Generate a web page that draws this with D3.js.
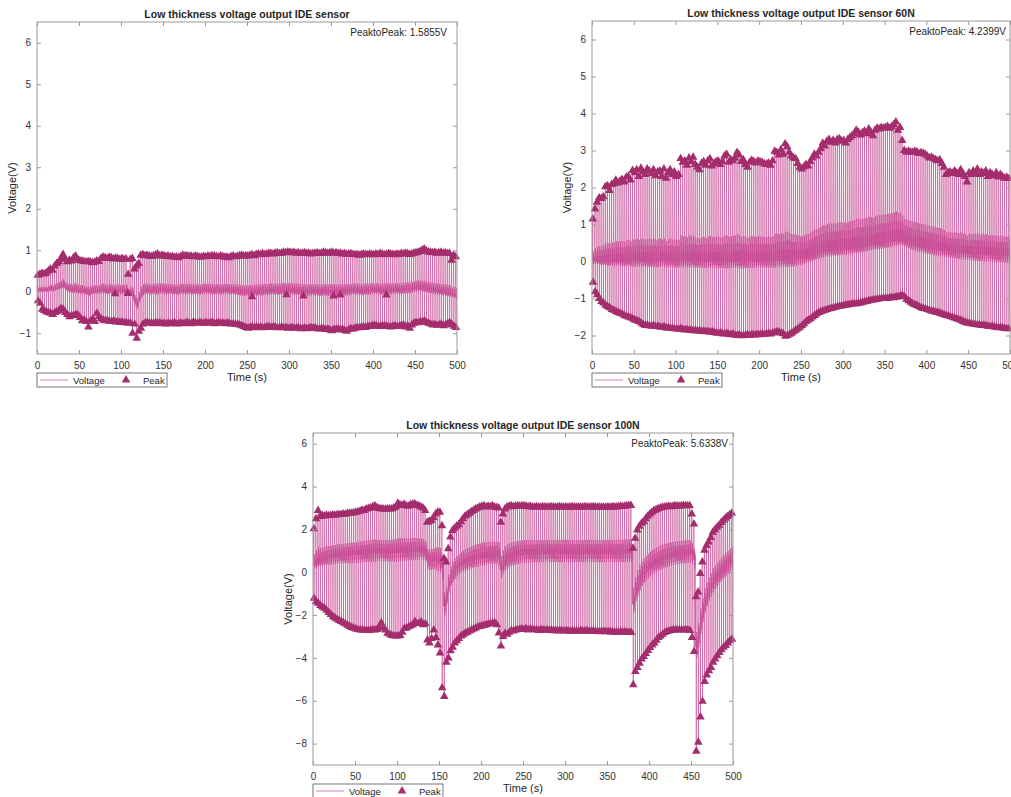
<!DOCTYPE html>
<html>
<head>
<meta charset="utf-8">
<script src="https://cdn.jsdelivr.net/npm/d3@7/dist/d3.min.js"></script>
<style>
  body { margin: 0; background: #fff; }
  svg text { font-family: "Liberation Sans", Arial, Helvetica, sans-serif; fill: #262626; }
</style>
</head>
<body>
<svg id="chart" width="1011" height="797"></svg>
<script>
// one press cycle every 2.5 s, first peak at t = 1 s
const cycleStart = 1;
const cyclePeriod = 2.5;

const xTicks = [0, 50, 100, 150, 200, 250, 300, 350, 400, 450, 500];
const titles = [
  "Low thickness voltage output IDE sensor",
  "Low thickness voltage output IDE sensor 60N",
  "Low thickness voltage output IDE sensor 100N"
];
const peakToPeak = ["PeaktoPeak: 1.5855V", "PeaktoPeak: 4.2399V", "PeaktoPeak: 5.6338V"];

// ---------- panel 1 (no load) ----------
const yTicks1 = [-1, 0, 1, 2, 3, 4, 5, 6];
const yDomain1 = [-1.5, 6.5];
const upper1 = [
  0.40, 0.42, 0.44, 0.43, 0.45, 0.50, 0.55, 0.52, 0.62, 0.68, 0.72, 0.80, 0.90, 0.78, 0.72, 0.76, 0.74, 0.82, 0.86, 0.78,
  0.75, 0.74, 0.73, 0.72, 0.73, 0.72, 0.70, 0.71, 0.74, 0.73, 0.80, 0.84, 0.82, 0.80, 0.83, 0.82, 0.79, 0.81, 0.80, 0.78,
  0.80, 0.78, 0.79, 0.42, 0.78, 0.80, 0.55, 0.62, 0.68, 0.88, 0.90, 0.87, 0.88, 0.86, 0.85, 0.87, 0.88, 0.91, 0.86, 0.88,
  0.87, 0.85, 0.86, 0.84, 0.85, 0.83, 0.84, 0.82, 0.85, 0.88, 0.86, 0.87, 0.85, 0.86, 0.84, 0.86, 0.85, 0.83, 0.84, 0.85,
  0.84, 0.86, 0.85, 0.87, 0.86, 0.85, 0.84, 0.86, 0.85, 0.83, 0.84, 0.82, 0.85, 0.86, 0.84, 0.85, 0.87, 0.88, 0.86, 0.87,
  0.86, 0.88, 0.89, 0.87, 0.90, 0.91, 0.89, 0.92, 0.90, 0.91, 0.93, 0.92, 0.91, 0.93, 0.94, 0.92, 0.93, 0.95, 0.94, 0.96,
  0.95, 0.94, 0.95, 0.93, 0.94, 0.92, 0.93, 0.94, 0.92, 0.93, 0.91, 0.92, 0.93, 0.94, 0.92, 0.93, 0.95, 0.94, 0.93, 0.94,
  0.95, 0.93, 0.94, 0.92, 0.93, 0.91, 0.92, 0.90, 0.91, 0.92, 0.90, 0.89, 0.90, 0.88, 0.89, 0.91, 0.90, 0.89, 0.91, 0.90,
  0.89, 0.91, 0.90, 0.92, 0.91, 0.89, 0.90, 0.92, 0.91, 0.90, 0.89, 0.91, 0.90, 0.92, 0.91, 0.93, 0.92, 0.90, 0.91, 0.93,
  0.94, 0.95, 0.97, 1.00, 1.03, 0.98, 0.96, 0.95, 0.94, 0.95, 0.93, 0.94, 0.95, 0.93, 0.94, 0.92, 0.93, 0.76, 0.88, 0.84
];
const lower1 = [
  -0.22, -0.28, -0.42, -0.45, -0.48, -0.50, -0.52, -0.55, -0.50, -0.48, -0.45, -0.40, -0.42, -0.50, -0.55, -0.60, -0.58, -0.57, -0.55, -0.56,
  -0.62, -0.70, -0.68, -0.72, -0.85, -0.70, -0.66, -0.72, -0.52, -0.60, -0.65, -0.68, -0.70, -0.69, -0.71, -0.72, -0.70, -0.73, -0.72, -0.74,
  -0.73, -0.75, -0.74, -0.76, -0.75, -1.00, -0.78, -1.12, -0.95, -0.88, -0.78, -0.75, -0.74, -0.76, -0.75, -0.77, -0.74, -0.76, -0.75, -0.77,
  -0.76, -0.78, -0.75, -0.77, -0.76, -0.74, -0.78, -0.76, -0.75, -0.77, -0.76, -0.74, -0.75, -0.77, -0.73, -0.75, -0.76, -0.74, -0.75, -0.76,
  -0.74, -0.76, -0.75, -0.73, -0.77, -0.75, -0.74, -0.76, -0.75, -0.77, -0.75, -0.76, -0.78, -0.77, -0.79, -0.78, -0.80, -0.82, -0.84, -0.86,
  -0.88, -0.86, -0.85, -0.87, -0.84, -0.86, -0.85, -0.87, -0.86, -0.84, -0.85, -0.86, -0.84, -0.85, -0.87, -0.86, -0.85, -0.87, -0.86, -0.88,
  -0.87, -0.86, -0.88, -0.87, -0.86, -0.89, -0.88, -0.87, -0.89, -0.88, -0.86, -0.88, -0.87, -0.89, -0.90, -0.88, -0.89, -0.91, -0.90, -0.92,
  -0.94, -0.90, -0.91, -0.89, -0.92, -0.90, -0.93, -0.95, -0.91, -0.89, -0.90, -0.88, -0.86, -0.87, -0.85, -0.84, -0.86, -0.83, -0.84, -0.82,
  -0.81, -0.82, -0.84, -0.83, -0.82, -0.81, -0.83, -0.84, -0.85, -0.83, -0.82, -0.84, -0.83, -0.81, -0.80, -0.85, -0.82, -0.88, -0.80, -0.76,
  -0.74, -0.75, -0.72, -0.73, -0.70, -0.74, -0.76, -0.78, -0.80, -0.79, -0.81, -0.80, -0.78, -0.82, -0.80, -0.77, -0.74, -0.79, -0.83, -0.86
];
const base1 = [
  0.02, 0.03, 0.02, 0.04, 0.03, 0.05, 0.06, 0.05, 0.07, 0.08, 0.10, 0.12, 0.14, 0.08, 0.05, 0.04, 0.02, 0.03, 0.01, 0.00,
  -0.01, 0.00, -0.02, -0.03, -0.05, -0.02, 0.00, 0.01, -0.01, 0.00, 0.02, 0.01, 0.00, -0.01, 0.01, 0.00, -0.02, -0.01, 0.00, -0.01,
  0.00, -0.01, 0.01, -0.02, -0.05, -0.10, -0.25, -0.35, -0.20, -0.08, -0.02, 0.00, 0.01, -0.01, 0.00, 0.01, -0.01, 0.00, 0.02, 0.01,
  0.00, -0.01, 0.00, 0.01, -0.01, 0.00, -0.02, 0.00, 0.01, 0.00, -0.01, 0.00, 0.01, -0.01, 0.00, 0.01, 0.00, -0.01, 0.00, 0.01,
  0.00, 0.01, 0.00, -0.01, 0.00, 0.01, 0.00, -0.01, 0.00, 0.01, 0.00, -0.01, 0.00, 0.00, -0.01, -0.02, -0.03, -0.04, -0.05, -0.04,
  -0.05, -0.04, -0.05, -0.03, -0.04, -0.02, -0.03, -0.02, -0.01, -0.02, -0.01, 0.00, -0.01, 0.00, -0.01, 0.00, 0.01, 0.00, -0.01, 0.00,
  -0.01, 0.00, -0.02, -0.01, -0.02, -0.03, -0.02, -0.03, -0.04, -0.03, -0.02, -0.03, -0.02, -0.03, -0.04, -0.03, -0.02, -0.03, -0.04, -0.03,
  -0.04, -0.03, -0.04, -0.03, -0.02, -0.03, -0.02, -0.01, -0.02, -0.01, 0.00, -0.01, 0.00, -0.01, -0.02, -0.01, 0.00, -0.01, 0.00, 0.01,
  0.00, 0.01, 0.00, -0.01, 0.00, 0.01, 0.02, 0.01, 0.00, 0.01, 0.02, 0.01, 0.00, 0.01, 0.02, 0.03, 0.04, 0.03, 0.05, 0.06,
  0.07, 0.08, 0.07, 0.06, 0.05, 0.04, 0.03, 0.02, 0.01, 0.00, -0.01, -0.02, -0.03, -0.02, -0.04, -0.05, -0.06, -0.08, -0.10, -0.12
];
// small peaks found near zero
const extraTimes1 = [93, 108, 256, 297, 317, 353, 361, 416];
const extraValues1 = [-0.05, -0.04, -0.12, -0.07, -0.10, -0.10, -0.08, -0.08];

// ---------- panel 2 (60N) ----------
const yTicks2 = [-2, -1, 0, 1, 2, 3, 4, 5, 6];
const yDomain2 = [-2.5, 6.5];
const upper2 = [
  1.15, 1.42, 1.60, 1.72, 1.70, 1.75, 2.02, 2.05, 1.92, 2.08, 2.10, 2.20, 2.12, 2.18, 2.22, 2.15, 2.28, 2.30, 2.20, 2.46,
  2.40, 2.48, 2.30, 2.52, 2.42, 2.35, 2.50, 2.45, 2.38, 2.48, 2.32, 2.42, 2.45, 2.30, 2.50, 2.25, 2.40, 2.48, 2.35, 2.42,
  2.30, 2.35, 2.78, 2.68, 2.72, 2.60, 2.80, 2.70, 2.82, 2.62, 2.55, 2.48, 2.65, 2.70, 2.60, 2.72, 2.78, 2.58, 2.65, 2.70,
  2.72, 2.62, 2.70, 2.85, 2.90, 2.68, 2.75, 2.72, 2.80, 2.95, 2.88, 2.70, 2.75, 2.62, 2.55, 2.68, 2.74, 2.70, 2.66, 2.72,
  2.70, 2.68, 2.64, 2.62, 2.66, 2.60, 2.72, 2.98, 2.95, 2.88, 3.02, 2.90, 3.18, 3.10, 2.95, 2.85, 2.80, 2.78, 2.65, 2.55,
  2.50, 2.56, 2.62, 2.58, 2.70, 2.80, 2.90, 2.85, 2.95, 3.05, 3.20, 3.12, 3.25, 3.30, 3.22, 3.28, 3.20, 3.30, 3.32, 3.25,
  3.27, 3.20, 3.30, 3.35, 3.40, 3.45, 3.55, 3.50, 3.42, 3.48, 3.52, 3.45, 3.58, 3.50, 3.40, 3.55, 3.60, 3.58, 3.62, 3.60,
  3.62, 3.65, 3.60, 3.64, 3.70, 3.77, 3.55, 3.62, 3.27, 3.00, 2.95, 2.98, 2.96, 2.95, 2.98, 2.96, 2.92, 2.94, 2.93, 2.90,
  2.85, 2.80, 2.82, 2.78, 2.75, 2.72, 2.75, 2.65, 2.55, 2.35, 2.40, 2.42, 2.38, 2.45, 2.40, 2.35, 2.48, 2.38, 2.30, 2.15,
  2.40, 2.35, 2.45, 2.38, 2.50, 2.35, 2.42, 2.38, 2.45, 2.30, 2.40, 2.36, 2.32, 2.40, 2.28, 2.35, 2.30, 2.25, 2.28, 2.24
];
const lower2 = [
  -0.56, -0.82, -0.90, -1.00, -1.08, -1.12, -1.18, -1.22, -1.25, -1.30, -1.32, -1.35, -1.38, -1.40, -1.42, -1.46, -1.48, -1.50, -1.52, -1.55,
  -1.58, -1.60, -1.62, -1.66, -1.70, -1.73, -1.72, -1.74, -1.75, -1.73, -1.76, -1.75, -1.77, -1.78, -1.76, -1.80, -1.79, -1.81, -1.80, -1.82,
  -1.82, -1.83, -1.81, -1.84, -1.85, -1.84, -1.86, -1.85, -1.87, -1.86, -1.88, -1.87, -1.89, -1.88, -1.90, -1.89, -1.91, -1.90, -1.92, -1.93,
  -1.94, -1.92, -1.95, -1.96, -1.94, -1.97, -1.98, -1.96, -1.99, -2.00, -1.98, -2.01, -2.00, -1.99, -1.98, -2.00, -1.97, -1.99, -1.98, -1.97,
  -1.98, -1.96, -1.97, -1.95, -1.94, -1.96, -1.93, -1.92, -1.90, -1.91, -1.93, -1.95, -2.02, -2.00, -1.97, -1.94, -1.90, -1.86, -1.82, -1.78,
  -1.73, -1.68, -1.62, -1.58, -1.55, -1.50, -1.46, -1.42, -1.38, -1.36, -1.34, -1.32, -1.30, -1.28, -1.27, -1.25, -1.24, -1.22, -1.21, -1.20,
  -1.19, -1.18, -1.17, -1.16, -1.15, -1.14, -1.14, -1.13, -1.12, -1.10, -1.09, -1.08, -1.06, -1.05, -1.04, -1.03, -1.02, -1.01, -1.00, -1.00,
  -0.99, -1.00, -0.98, -0.97, -0.98, -0.96, -0.95, -0.93, -0.91, -0.95, -1.02, -1.06, -1.10, -1.14, -1.17, -1.19, -1.22, -1.25, -1.27, -1.28,
  -1.30, -1.32, -1.34, -1.35, -1.37, -1.38, -1.40, -1.42, -1.44, -1.46, -1.47, -1.49, -1.51, -1.53, -1.55, -1.57, -1.59, -1.62, -1.64, -1.66,
  -1.67, -1.68, -1.69, -1.70, -1.71, -1.72, -1.73, -1.72, -1.74, -1.75, -1.76, -1.75, -1.77, -1.78, -1.79, -1.78, -1.80, -1.81, -1.82, -1.82
];
const base2 = [
  -0.02, 0.00, 0.01, -0.01, 0.00, 0.02, 0.00, -0.01, 0.01, 0.00, -0.02, 0.00, 0.01, 0.00, -0.01, 0.00, 0.01, 0.02, 0.00, -0.01,
  0.00, 0.01, 0.00, -0.01, 0.00, 0.01, -0.01, 0.00, 0.01, 0.00, -0.01, 0.00, 0.01, 0.02, 0.00, -0.01, 0.00, 0.01, 0.00, -0.01,
  0.00, 0.01, 0.02, 0.01, 0.00, -0.01, 0.00, 0.01, 0.00, -0.01, 0.00, 0.01, 0.00, -0.01, -0.02, -0.01, 0.00, 0.01, 0.00, -0.01,
  -0.02, -0.01, 0.00, -0.01, -0.02, -0.01, 0.00, 0.01, 0.00, -0.01, -0.02, -0.01, 0.00, -0.01, 0.00, 0.01, 0.00, -0.01, 0.00, 0.01,
  0.00, 0.01, 0.00, 0.01, 0.02, 0.01, 0.00, 0.01, 0.02, 0.01, 0.02, 0.03, 0.02, 0.03, 0.04, 0.03, 0.04, 0.05, 0.06, 0.06,
  0.07, 0.09, 0.11, 0.13, 0.15, 0.17, 0.19, 0.21, 0.23, 0.24, 0.25, 0.26, 0.27, 0.28, 0.28, 0.29, 0.30, 0.30, 0.31, 0.31,
  0.32, 0.32, 0.33, 0.33, 0.34, 0.35, 0.36, 0.37, 0.38, 0.39, 0.40, 0.41, 0.42, 0.43, 0.44, 0.45, 0.46, 0.47, 0.48, 0.49,
  0.50, 0.51, 0.52, 0.53, 0.54, 0.55, 0.56, 0.57, 0.56, 0.54, 0.52, 0.50, 0.47, 0.45, 0.43, 0.41, 0.40, 0.38, 0.37, 0.36,
  0.35, 0.34, 0.33, 0.32, 0.31, 0.30, 0.29, 0.28, 0.28, 0.27, 0.26, 0.25, 0.25, 0.24, 0.23, 0.23, 0.22, 0.22, 0.21, 0.21,
  0.20, 0.20, 0.19, 0.19, 0.18, 0.18, 0.18, 0.17, 0.17, 0.17, 0.16, 0.16, 0.16, 0.15, 0.15, 0.15, 0.15, 0.14, 0.14, 0.14
];

// ---------- panel 3 (100N) ----------
const yTicks3 = [-8, -6, -4, -2, 0, 2, 4, 6];
const yDomain3 = [-9, 6.5];
const upper3 = [
  2.03, 2.50, 2.88, 2.60, 2.65, 2.62, 2.66, 2.64, 2.65, 2.67, 2.66, 2.68, 2.70, 2.69, 2.72, 2.71, 2.74, 2.75, 2.76, 2.78,
  2.80, 2.82, 2.85, 2.90, 2.88, 2.95, 2.98, 3.00, 3.05, 3.10, 3.02, 2.98, 2.96, 2.95, 2.94, 2.95, 2.96, 2.95, 3.00, 3.05,
  3.22, 3.15, 3.12, 3.18, 3.10, 3.08, 3.15, 3.18, 3.20, 3.12, 3.10, 3.05, 3.00, 2.88, 2.33, 2.38, 2.42, 2.55, 2.72, 2.80,
  2.80, 2.17, 0.64, 0.48, 1.10, 1.64, 1.95, 2.05, 2.15, 2.22, 2.35, 2.50, 2.62, 2.68, 2.75, 2.82, 2.88, 2.95, 3.00, 3.05,
  3.08, 3.10, 3.05, 3.08, 3.06, 3.10, 3.05, 3.02, 3.00, 2.33, 2.72, 2.95, 3.05, 3.08, 3.10, 3.06, 3.08, 3.10, 3.08, 3.10,
  3.10, 3.08, 3.06, 3.08, 3.05, 3.04, 3.06, 3.05, 3.04, 3.06, 3.05, 3.04, 3.05, 3.06, 3.05, 3.04, 3.05, 3.06, 3.05, 3.04,
  3.05, 3.04, 3.05, 3.06, 3.05, 3.04, 3.05, 3.04, 3.05, 3.06, 3.05, 3.04, 3.05, 3.06, 3.05, 3.04, 3.05, 3.04, 3.03, 3.04,
  3.05, 3.04, 3.05, 3.06, 3.05, 3.06, 3.08, 3.07, 3.08, 3.10, 3.11, 3.12, 1.12, 1.58, 1.97, 2.15, 2.28, 2.36, 2.50, 2.62,
  2.72, 2.80, 2.88, 2.92, 2.96, 3.00, 3.03, 3.05, 3.06, 3.08, 3.06, 3.08, 3.10, 3.09, 3.08, 3.10, 3.12, 3.10, 3.11, 3.10,
  2.72, 2.25, -1.15, -0.92, -0.06, 0.48, 1.02, 1.25, 1.41, 1.62, 1.87, 1.98, 2.10, 2.19, 2.32, 2.42, 2.52, 2.60, 2.68, 2.76
];
const lower3 = [
  -1.22, -1.38, -1.45, -1.55, -1.62, -1.68, -1.78, -1.88, -1.98, -2.08, -2.14, -2.20, -2.25, -2.30, -2.36, -2.42, -2.48, -2.53, -2.58, -2.62,
  -2.65, -2.68, -2.70, -2.70, -2.71, -2.70, -2.72, -2.70, -2.69, -2.70, -2.68, -2.55, -2.37, -2.62, -2.70, -2.85, -2.90, -2.95, -2.97, -2.98,
  -2.98, -2.96, -2.80, -2.62, -2.60, -2.55, -2.50, -2.45, -2.30, -2.40, -2.38, -2.32, -2.45, -2.40, -3.16, -3.30, -3.10, -2.70, -3.05, -3.40,
  -3.77, -5.40, -5.80, -4.20, -4.00, -3.67, -3.50, -3.30, -3.20, -3.10, -2.98, -2.92, -2.85, -2.80, -2.75, -2.70, -2.65, -2.60, -2.55, -2.53,
  -2.50, -2.48, -2.45, -2.42, -2.40, -2.38, -2.36, -2.45, -2.84, -3.45, -3.00, -2.85, -2.90, -2.80, -2.72, -2.75, -2.70, -2.68, -2.66, -2.65,
  -2.68, -2.62, -2.70, -2.65, -2.66, -2.68, -2.70, -2.72, -2.68, -2.70, -2.71, -2.69, -2.72, -2.70, -2.73, -2.71, -2.74, -2.72, -2.73, -2.75,
  -2.72, -2.74, -2.76, -2.73, -2.75, -2.74, -2.76, -2.72, -2.75, -2.74, -2.73, -2.76, -2.75, -2.74, -2.77, -2.76, -2.78, -2.77, -2.76, -2.78,
  -2.77, -2.79, -2.78, -2.80, -2.79, -2.80, -2.78, -2.80, -2.79, -2.80, -2.81, -2.80, -5.25, -4.63, -4.45, -4.25, -4.05, -3.94, -3.80, -3.65,
  -3.52, -3.40, -3.30, -3.18, -3.05, -2.98, -2.90, -2.82, -2.77, -2.75, -2.72, -2.70, -2.70, -2.68, -2.70, -2.69, -2.70, -2.68, -2.70, -2.72,
  -3.05, -3.70, -8.36, -7.94, -6.76, -6.03, -5.10, -4.80, -4.60, -4.45, -4.20, -4.05, -3.90, -3.75, -3.62, -3.50, -3.42, -3.30, -3.20, -3.13
];
const base3 = [
  0.33, 0.40, 0.46, 0.50, 0.54, 0.57, 0.60, 0.62, 0.64, 0.66, 0.68, 0.70, 0.72, 0.73, 0.74, 0.75, 0.76, 0.77, 0.78, 0.79,
  0.80, 0.81, 0.82, 0.83, 0.84, 0.85, 0.85, 0.86, 0.86, 0.87, 0.87, 0.88, 0.88, 0.88, 0.89, 0.89, 0.89, 0.90, 0.90, 0.90,
  0.90, 0.91, 0.91, 0.91, 0.92, 0.92, 0.92, 0.93, 0.93, 0.93, 0.94, 0.94, 0.92, 0.85, 0.55, 0.50, 0.52, 0.50, 0.48, 0.45,
  0.40, 0.20, -1.60, -1.20, -0.60, -0.30, -0.10, 0.05, 0.15, 0.25, 0.32, 0.38, 0.42, 0.46, 0.50, 0.53, 0.56, 0.58, 0.60, 0.62,
  0.64, 0.66, 0.68, 0.70, 0.71, 0.72, 0.73, 0.74, 0.70, 0.10, 0.30, 0.45, 0.55, 0.62, 0.67, 0.71, 0.74, 0.76, 0.78, 0.80,
  0.81, 0.82, 0.82, 0.83, 0.83, 0.84, 0.84, 0.84, 0.85, 0.85, 0.84, 0.86, 0.85, 0.85, 0.84, 0.86, 0.85, 0.84, 0.85, 0.86,
  0.85, 0.84, 0.86, 0.85, 0.84, 0.85, 0.86, 0.85, 0.84, 0.85, 0.86, 0.85, 0.84, 0.85, 0.86, 0.85, 0.84, 0.85, 0.86, 0.85,
  0.85, 0.86, 0.85, 0.84, 0.85, 0.86, 0.85, 0.86, 0.87, 0.86, 0.87, 0.86, -1.50, -1.00, -0.70, -0.45, -0.25, -0.10, 0.02, 0.12,
  0.20, 0.27, 0.34, 0.40, 0.45, 0.50, 0.54, 0.58, 0.61, 0.64, 0.67, 0.70, 0.72, 0.74, 0.76, 0.78, 0.79, 0.80, 0.81, 0.82,
  0.80, 0.60, -3.50, -3.00, -2.40, -1.90, -1.50, -1.20, -0.95, -0.75, -0.55, -0.40, -0.25, -0.12, 0.00, 0.12, 0.22, 0.32, 0.42, 0.50
];

// Couleurs
const lineColor = "#c84b95";
const peakColor = "#a42d6d";
const axisColor = "#9a9a9a";

const panels = [
  { left: 37, right: 457, top: 22, bottom: 354, yDomain: yDomain1, yTicks: yTicks1,
    upper: upper1, lower: lower1, base: base1, extraT: extraTimes1, extraV: extraValues1,
    band: 0.22, pkGap: 10, title: titles[0], pk: peakToPeak[0] },
  { left: 592, right: 1010, top: 21, bottom: 354, yDomain: yDomain2, yTicks: yTicks2,
    upper: upper2, lower: lower2, base: base2, extraT: [], extraV: [],
    band: 0.25, pkGap: 4, title: titles[1], pk: peakToPeak[1] },
  { left: 313, right: 733, top: 433, bottom: 765, yDomain: yDomain3, yTicks: yTicks3,
    upper: upper3, lower: lower3, base: base3, extraT: [], extraV: [],
    band: 0.3, pkGap: 5, title: titles[2], pk: peakToPeak[2] }
];

const svg = d3.select("#chart");
const tri = d3.symbol().type(d3.symbolTriangle).size(32);

panels.forEach((p, idx) => {
  const x = d3.scaleLinear().domain([0, 500]).range([p.left, p.right]);
  const y = d3.scaleLinear().domain(p.yDomain).range([p.bottom, p.top]);
  const w = p.right - p.left, h = p.bottom - p.top;

  // signal: each cycle rises to its peak, falls to its valley, rings around the baseline
  const pts = [];
  p.upper.forEach((u, i) => {
    const t = cycleStart + i * cyclePeriod, b = p.base[i], l = p.lower[i];
    const up = p.band * (u - b), dn = p.band * 0.7 * (b - l);
    pts.push([t - 0.6, b], [t, u], [t + 0.25, l], [t + 0.5, b - dn],
             [t + 0.7, b + up], [t + 0.9, b - 0.5 * dn], [t + 1.1, b + 0.7 * up],
             [t + 1.3, b - 0.3 * dn], [t + 1.5, b + 0.4 * up], [t + 1.8, b]);
  });

  svg.append("clipPath").attr("id", "clip" + idx)
    .append("rect").attr("x", p.left).attr("y", p.top).attr("width", w).attr("height", h);

  const g = svg.append("g");

  g.append("path")
    .datum(pts)
    .attr("clip-path", `url(#clip${idx})`)
    .attr("fill", "none")
    .attr("stroke", lineColor)
    .attr("stroke-width", 0.7)
    .attr("stroke-opacity", 0.9)
    .attr("d", d3.line().x(d => x(d[0])).y(d => y(d[1])));

  // peaks (triangles)
  const peaks = [];
  p.upper.forEach((u, i) => peaks.push([cycleStart + i * cyclePeriod, u]));
  p.lower.forEach((l, i) => peaks.push([cycleStart + i * cyclePeriod + 0.25, l]));
  p.extraT.forEach((t, i) => peaks.push([t, p.extraV[i]]));

  g.selectAll(".peak" + idx)
    .data(peaks)
    .join("path")
    .attr("class", "peak" + idx)
    .attr("d", tri)
    .attr("transform", d => `translate(${x(d[0])},${y(d[1])})`)
    .attr("fill", peakColor);

  // axes
  const ax = svg.append("g").attr("font-size", 10);
  ax.append("g").attr("transform", `translate(0,${p.bottom})`)
    .call(d3.axisBottom(x).tickValues(xTicks).tickSize(-4).tickPadding(8).tickSizeOuter(0));
  ax.append("g").attr("transform", `translate(0,${p.top})`)
    .call(d3.axisTop(x).tickValues(xTicks).tickSize(-4).tickFormat("").tickSizeOuter(0));
  ax.append("g").attr("transform", `translate(${p.left},0)`)
    .call(d3.axisLeft(y).tickValues(p.yTicks).tickSize(-4).tickPadding(6).tickSizeOuter(0));
  ax.append("g").attr("transform", `translate(${p.right},0)`)
    .call(d3.axisRight(y).tickValues(p.yTicks).tickSize(-4).tickFormat("").tickSizeOuter(0));
  ax.selectAll(".domain").remove();
  ax.selectAll(".tick line").attr("stroke", axisColor);
  ax.selectAll(".tick text").style("fill", "#333").attr("font-family", null);
  ax.append("rect")
    .attr("x", p.left).attr("y", p.top).attr("width", w).attr("height", h)
    .attr("fill", "none").attr("stroke", axisColor).attr("stroke-width", 1);

  // titre et labels
  svg.append("text")
    .attr("x", (p.left + p.right) / 2).attr("y", p.top - 4)
    .attr("text-anchor", "middle").style("font-weight", "bold").style("font-size", "10.5px")
    .text(p.title);

  svg.append("text")
    .attr("x", p.right - p.pkGap).attr("y", p.top + 14)
    .attr("text-anchor", "end").style("font-size", "10px")
    .text(p.pk);

  svg.append("text")
    .attr("x", (p.left + p.right) / 2).attr("y", p.bottom + 27)
    .attr("text-anchor", "middle").style("font-size", "11px")
    .text("Time (s)");

  svg.append("text")
    .attr("transform", `translate(${p.left - 21},${(p.top + p.bottom) / 2}) rotate(-90)`)
    .attr("text-anchor", "middle").style("font-size", "11px")
    .text("Voltage(V)");

  // legend
  const lg = svg.append("g").attr("transform", `translate(${p.left},${p.bottom + 19})`);
  lg.append("rect").attr("width", 130).attr("height", 14)
    .attr("fill", "#fff").attr("stroke", "#555").attr("stroke-width", 0.8);
  lg.append("line").attr("x1", 3).attr("x2", 31).attr("y1", 7).attr("y2", 7)
    .attr("stroke", lineColor).attr("stroke-width", 1).attr("stroke-opacity", 0.7);
  lg.append("text").attr("x", 36).attr("y", 10.5).style("font-size", "9.5px").text("Voltage");
  lg.append("path").attr("d", tri).attr("transform", "translate(89,7)").attr("fill", peakColor);
  lg.append("text").attr("x", 106).attr("y", 10.5).style("font-size", "9.5px").text("Peak");
});
</script>
</body>
</html>
